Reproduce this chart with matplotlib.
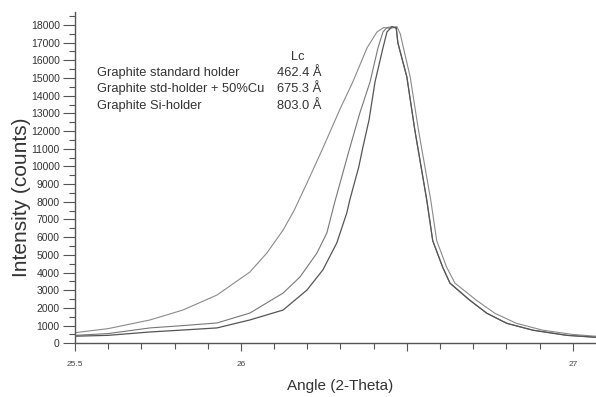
import matplotlib
matplotlib.use('Agg')
import matplotlib.pyplot as plt
from matplotlib.ticker import MultipleLocator, FixedLocator

plt.rcParams['font.family'] = ['Liberation Sans', 'DejaVu Sans']

# Graphite standard holder (widest peak)
angle_std = [25.50, 25.60, 25.726, 25.825, 25.928, 26.027, 26.078, 26.127, 26.16, 26.20,
             26.247, 26.30, 26.337, 26.38, 26.41, 26.43, 26.45, 26.47, 26.48, 26.51,
             26.535, 26.572, 26.59, 26.62, 26.645, 26.71, 26.765, 26.83, 26.91, 27.00,
             27.07]
counts_std = [600, 830, 1320, 1880, 2730, 4030, 5100, 6400, 7500, 9100,
              11040, 13300, 14770, 16700, 17600, 17850, 17800, 17900, 17500, 15060,
              12060, 8100, 5800, 4300, 3400, 2430, 1700, 1130, 740, 500,
              400]

# Graphite std-holder + 50%Cu
angle_cu = [25.50, 25.60, 25.726, 25.825, 25.928, 26.027, 26.127, 26.178, 26.229, 26.259,
            26.283, 26.328, 26.358, 26.389, 26.413, 26.428, 26.44, 26.455, 26.468, 26.473,
            26.50, 26.524, 26.56, 26.578, 26.608, 26.63, 26.69, 26.741, 26.801, 26.88,
            26.982, 27.07]
counts_cu = [450, 550, 870, 1000, 1150, 1710, 2840, 3750, 5100, 6240,
             8000, 11040, 13000, 14770, 16700, 17600, 17850, 17900, 17800, 16980,
             15060, 12060, 8100, 5800, 4300, 3400, 2430, 1700, 1130, 740,
             450, 340]

# Graphite Si-holder (narrowest peak)
angle_si = [25.50, 25.60, 25.726, 25.825, 25.928, 26.027, 26.127, 26.199, 26.247, 26.289,
            26.319, 26.328, 26.355, 26.367, 26.386, 26.404, 26.428, 26.44, 26.455, 26.468,
            26.473, 26.50, 26.524, 26.56, 26.578, 26.608, 26.63, 26.69, 26.741, 26.801,
            26.88, 26.982, 27.07]
counts_si = [400, 450, 640, 750, 870, 1320, 1880, 3010, 4150, 5680,
             7370, 8100, 9960, 11040, 12620, 14770, 16700, 17600, 17900, 17850,
             16980, 15060, 12060, 8100, 5800, 4300, 3400, 2430, 1700, 1130,
             740, 450, 340]

labels = ['Graphite standard holder', 'Graphite std-holder + 50%Cu', 'Graphite Si-holder']
lc_values = ['462.4 \u00c5', '675.3 \u00c5', '803.0 \u00c5']

W, H = 596, 397
fig = plt.figure(figsize=(W / 100, H / 100), dpi=100)
ax = fig.add_axes([75 / W, 1 - 343.3 / H, 1 - 75 / W, (343.3 - 12) / H])

ax.plot(angle_std, counts_std, color='#8a8a8a', lw=0.8)
ax.plot(angle_cu, counts_cu, color='#777777', lw=0.8)
ax.plot(angle_si, counts_si, color='#555555', lw=0.9)

ax.set_xlim(25.5, 27.07)
ax.set_ylim(0, 18730)

for s in ['top', 'right']:
    ax.spines[s].set_visible(False)
for s in ['left', 'bottom']:
    ax.spines[s].set_color('#555555')
    ax.spines[s].set_linewidth(1.0)

ax.yaxis.set_major_locator(FixedLocator(list(range(0, 18001, 1000))))
ax.yaxis.set_minor_locator(MultipleLocator(500))
ax.tick_params(axis='y', which='major', length=9, width=0.8, color='#555555',
               labelsize=7.5, labelcolor='#333333', pad=2)
ax.tick_params(axis='y', which='minor', length=4, width=0.8, color='#555555')

ax.xaxis.set_major_locator(FixedLocator([25.5, 26.0, 26.5, 27.0]))
ax.xaxis.set_minor_locator(MultipleLocator(0.1))
ax.set_xticklabels(['25.5', '26', '', '27'])
ax.tick_params(axis='x', which='major', length=6, width=0.8, color='#555555',
               labelsize=6, labelcolor='#444444', pad=7)
ax.tick_params(axis='x', which='minor', length=4, width=0.8, color='#555555')

ax.set_ylabel('Intensity (counts)', fontsize=15, color='#333333')
ax.yaxis.set_label_coords(-0.085, 0.44)
ax.set_xlabel('Angle (2-Theta)', fontsize=11, color='#333333')
ax.xaxis.set_label_coords(0.509, -0.108)

def fig_xy(px, py):
    return px / W, 1 - py / H

fig.text(*fig_xy(298, 57), 'Lc', fontsize=9.3, color='#333333', ha='center', va='center')
rows_y = [73, 89, 106]
for lab, val, y in zip(labels, lc_values, rows_y):
    fig.text(*fig_xy(97, y), lab, fontsize=9.3, color='#333333', va='center')
    fig.text(*fig_xy(277, y), val, fontsize=9.3, color='#333333', va='center')

fig.savefig('out.png', dpi=100)
